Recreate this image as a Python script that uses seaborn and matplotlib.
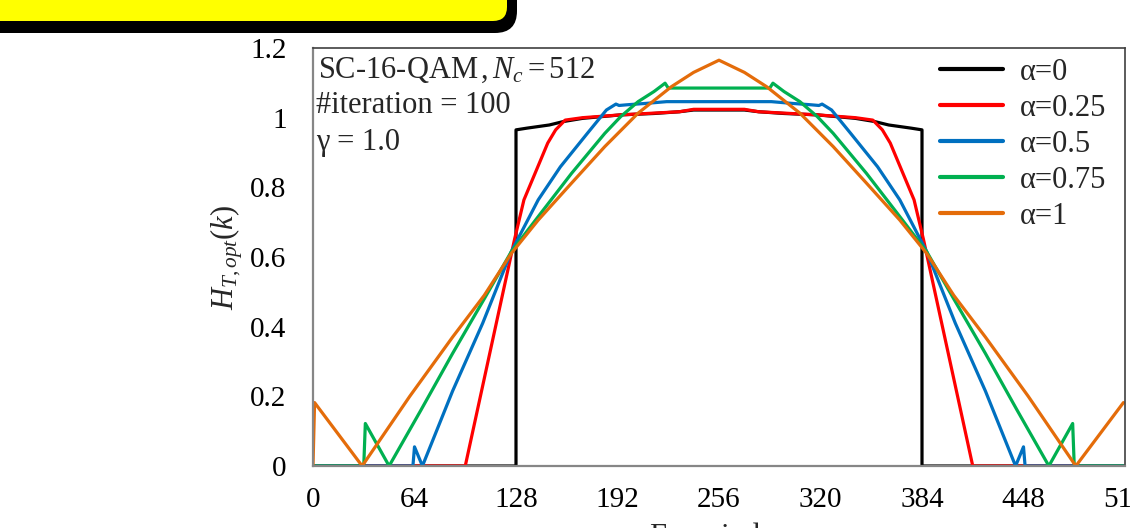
import numpy as np
import pandas as pd
import matplotlib
matplotlib.use("Agg")
import matplotlib.pyplot as plt
import seaborn as sns
from matplotlib.patches import FancyBboxPatch
from matplotlib.transforms import IdentityTransform
from matplotlib.ticker import MultipleLocator

# ---------------- data ----------------
labels = ["α=0", "α=0.25", "α=0.5", "α=0.75", "α=1"]
colors = ["#000000", "#FF0000", "#0070C0", "#00B050", "#E46C0A"]

k_a0 = [0, 128, 128, 135, 149, 158, 170, 194, 215, 231, 240, 272, 281, 297, 318, 342, 354, 363, 377, 384, 384, 511]
h_a0 = [0, 0, 0.965, 0.970, 0.979, 0.989, 0.998, 1.008, 1.012, 1.017, 1.022, 1.022, 1.017, 1.012, 1.008, 0.998, 0.989, 0.979, 0.970, 0.965, 0, 0]

k_a025 = [0, 96, 112, 127, 133, 140, 148, 153, 159, 170, 194, 231, 240, 272, 281, 318, 342, 353, 359, 364, 372, 379, 385, 400, 416, 511]
h_a025 = [0, 0, 0.335, 0.649, 0.764, 0.84, 0.927, 0.965, 0.993, 1.0, 1.008, 1.017, 1.024, 1.024, 1.017, 1.008, 1.0, 0.993, 0.965, 0.927, 0.84, 0.764, 0.649, 0.335, 0, 0]

k_a05 = [0, 63, 64, 69, 88, 107, 125, 142, 156, 173, 185, 191, 193, 198, 210, 223, 289, 302, 314, 319, 321, 327, 339, 356, 370, 387, 405, 424, 443, 448, 449, 511]
h_a05 = [0, 0, 0.055, 0, 0.215, 0.41, 0.615, 0.764, 0.859, 0.955, 1.022, 1.039, 1.035, 1.037, 1.041, 1.046, 1.046, 1.041, 1.037, 1.035, 1.039, 1.022, 0.955, 0.859, 0.764, 0.615, 0.41, 0.215, 0, 0.055, 0, 0]

k_a075 = [0, 32, 33, 48, 68, 88, 108, 125, 142, 163, 184, 194, 205, 215, 222, 224, 288, 290, 297, 307, 318, 328, 349, 370, 387, 404, 424, 444, 464, 479, 480, 511]
h_a075 = [0, 0, 0.122, 0, 0.16, 0.323, 0.48, 0.615, 0.716, 0.84, 0.955, 1.003, 1.046, 1.075, 1.099, 1.085, 1.085, 1.099, 1.075, 1.046, 1.003, 0.955, 0.84, 0.716, 0.615, 0.48, 0.323, 0.16, 0, 0.122, 0, 0]

k_a1 = [0, 1, 31, 61, 88, 108, 125, 142, 163, 184, 205, 226, 240, 256, 272, 286, 307, 328, 349, 370, 387, 404, 424, 451, 481, 511]
h_a1 = [0, 0.182, 0, 0.2, 0.37, 0.49, 0.61, 0.706, 0.812, 0.917, 1.013, 1.089, 1.13, 1.165, 1.13, 1.089, 1.013, 0.917, 0.812, 0.706, 0.61, 0.49, 0.37, 0.2, 0, 0.182]

x_ticks = [0, 64, 128, 192, 256, 320, 384, 448, 512]
y_ticks = [0, 0.2, 0.4, 0.6, 0.8, 1.0, 1.2]
y_tick_labels = ["0", "0.2", "0.4", "0.6", "0.8", "1", "1.2"]

# ---------------- style ----------------
sns.set_theme(style="white")
serif = ["Liberation Serif", "DejaVu Serif"]
plt.rcParams["font.family"] = serif
plt.rcParams["mathtext.fontset"] = "custom"
plt.rcParams["mathtext.rm"] = "Liberation Serif"
plt.rcParams["mathtext.it"] = "Liberation Serif:italic"
plt.rcParams["mathtext.bf"] = "Liberation Serif:bold"

FS = 22
TFS = 21
W, H = 1130, 528
fig = plt.figure(figsize=(W / 100, H / 100), dpi=100)
ax = fig.add_axes([313 / W, 1 - 466 / H, (1125 - 313) / W, (466 - 48) / H])

series = [(k_a0, h_a0), (k_a025, h_a025), (k_a05, h_a05), (k_a075, h_a075), (k_a1, h_a1)]
for (kk, hh), lab, col in zip(series, labels, colors):
    df = pd.DataFrame({"k": kk, "h": hh})
    sns.lineplot(data=df, x="k", y="h", ax=ax, color=col, lw=2.3, label=lab,
                 estimator=None, sort=False)

ax.set_xlim(0, 512)
ax.set_ylim(0, 1.2)
ax.set_xticks(x_ticks)
ax.set_xticklabels([str(t) for t in x_ticks])
ax.set_yticks(y_ticks)
ax.set_yticklabels(y_tick_labels)
ax.xaxis.set_minor_locator(MultipleLocator(32))
ax.yaxis.set_minor_locator(MultipleLocator(0.04))
ax.tick_params(axis="both", which="major", direction="in", length=6, width=1.2,
               color="#868686", labelsize=TFS, labelcolor="black")
ax.tick_params(axis="x", which="major", pad=15)
ax.tick_params(axis="y", which="major", pad=19)
ax.tick_params(axis="both", which="minor", direction="in", length=4, width=1.0,
               color="#868686")
ax.grid(False)

for s in ["left", "bottom"]:
    ax.spines[s].set_color("#868686")
    ax.spines[s].set_linewidth(1.6)
for s in ["top", "right"]:
    ax.spines[s].set_color("#404040")
    ax.spines[s].set_linewidth(1.2)

ax.set_ylabel(r"$H_{T,opt}(k)$", fontsize=FS, labelpad=4)
ax.set_xlabel("Freq. index", fontsize=FS, labelpad=7)

# annotation text (baselines)
ax.text(0.006, 0.928, r"SC-16-QAM$\,$,$\,N_c = 512$", transform=ax.transAxes,
        fontsize=FS, va="baseline", ha="left")
ax.text(0.004, 0.845, "#iteration = 100", transform=ax.transAxes,
        fontsize=FS, va="baseline", ha="left")
ax.text(0.004, 0.756, "γ = 1.0", transform=ax.transAxes,
        fontsize=FS, va="baseline", ha="left")

leg = ax.legend(loc="upper left", bbox_to_anchor=(940 / W, 1 - 58 / H),
                bbox_transform=fig.transFigure, frameon=False, fontsize=FS,
                handlelength=2.05, handletextpad=0.55, labelspacing=0.23,
                borderpad=0, borderaxespad=0)
for line in leg.get_lines():
    line.set_linewidth(3)

# yellow banner at the top-left (partly outside the canvas)
outer = FancyBboxPatch((-200, H - 33), 200 + 517, 300,
                       boxstyle="round,pad=0,rounding_size=22",
                       transform=IdentityTransform(), facecolor="black",
                       edgecolor="none", zorder=10)
inner = FancyBboxPatch((-200, H - 21), 200 + 507, 300,
                       boxstyle="round,pad=0,rounding_size=14",
                       transform=IdentityTransform(), facecolor="#FFFF00",
                       edgecolor="none", zorder=11)
fig.add_artist(outer)
fig.add_artist(inner)

fig.savefig("out.png", dpi=100)
